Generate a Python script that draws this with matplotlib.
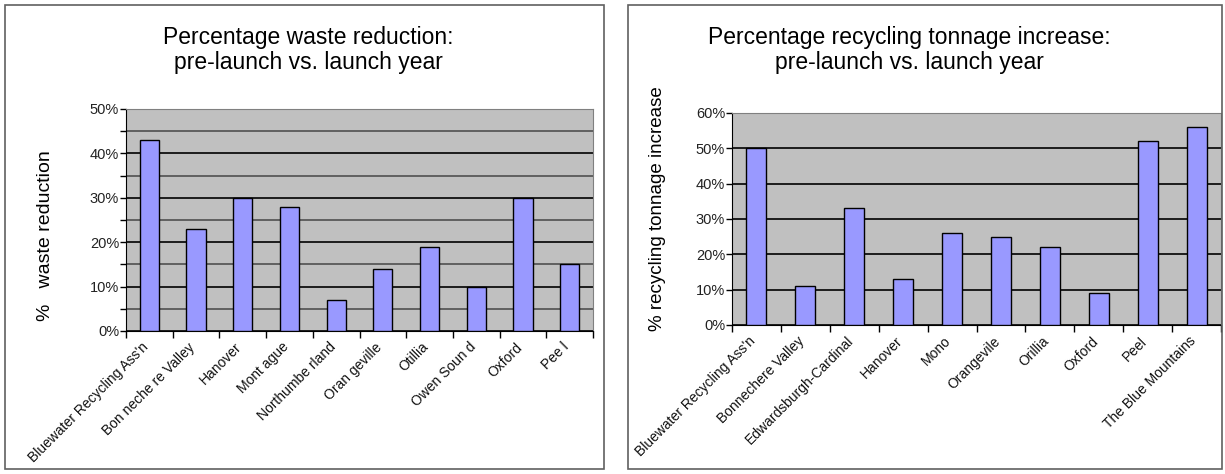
import matplotlib
matplotlib.use("Agg")
import matplotlib.pyplot as plt
from matplotlib.patches import Rectangle
from matplotlib.ticker import MultipleLocator, PercentFormatter
import numpy as np

plt.rcParams["font.family"] = ["Liberation Sans", "DejaVu Sans"]

# waste reduction per municipality (%)
waste_names = ["Bluewater Recycling Ass'n", "Bon neche re Valley", "Hanover",
               "Mont ague", "Northumbe rland", "Oran geville", "Otillia",
               "Owen Soun d", "Oxford", "Pee l"]
waste_pct = [43, 23, 30, 28, 7, 14, 19, 10, 30, 15]

# recycling tonnage increase per municipality (%)
recyc_names = ["Bluewater Recycling Ass'n", "Bonnechere Valley",
               "Edwardsburgh-Cardinal", "Hanover", "Mono", "Orangevile",
               "Orillia", "Oxford", "Peel", "The Blue Mountains"]
recyc_pct = [50, 11, 33, 13, 26, 25, 22, 9, 52, 56]

W, H = 1225, 474
fig = plt.figure(figsize=(W / 100, H / 100), dpi=100)


def px_box(x0, y0, x1, y1):
    # pixel box (top-left origin) -> figure fraction [l, b, w, h]
    return [x0 / W, 1 - y1 / H, (x1 - x0) / W, (y1 - y0) / H]


def panel(x0, y0, x1, y1):
    l, b, w, h = px_box(x0, y0, x1, y1)
    fig.patches.append(Rectangle((l, b), w, h, transform=fig.transFigure,
                                 fill=False, edgecolor="#606060", lw=1.2))


def bar_chart(box, names, vals, ymax, minor, title, title_x,
              ylabel, ylabel_x, ylabel_y, ylabel_size):
    ax = fig.add_axes(px_box(*box))
    ax.set_facecolor("#c0c0c0")
    x = np.arange(len(vals))
    ax.bar(x, vals, width=0.41, color="#9999ff", edgecolor="black", lw=1, zorder=3)
    ax.set_xlim(-0.5, len(vals) - 0.5)
    ax.set_ylim(0, ymax)
    ax.yaxis.set_major_locator(MultipleLocator(10))
    ax.yaxis.set_major_formatter(PercentFormatter(decimals=0))
    if minor:
        ax.yaxis.set_minor_locator(MultipleLocator(5))
        ax.grid(axis="y", which="minor", color="#505050", lw=1.2, zorder=1)
        ax.tick_params(axis="y", which="minor", length=4, width=1, direction="out")
    ax.grid(axis="y", which="major", color="black", lw=1.2, zorder=2)
    ax.tick_params(axis="y", which="major", length=4, width=1, direction="out",
                   labelsize=10.5, pad=1, labelcolor="#222222")
    # ticks at category boundaries, labels at centres
    ax.set_xticks(np.arange(len(vals) + 1) - 0.5)
    ax.set_xticklabels([])
    ax.tick_params(axis="x", length=5, width=1, direction="out")
    for i, n in enumerate(names):
        ax.annotate(n, (i, 0), xycoords=("data", "axes fraction"),
                    xytext=(-3, -14), textcoords="offset pixels",
                    rotation=45, ha="right", va="center", rotation_mode="anchor",
                    fontsize=10, color="#111111")
    for s in ("top", "right"):
        ax.spines[s].set_color("#808080")
    for s in ("left", "bottom"):
        ax.spines[s].set_color("black")
    ax.set_axisbelow(True)
    fig.text(title_x / W, 1 - 50 / H, title, ha="center", va="center",
             fontsize=16.5, linespacing=1.1)
    fig.text(ylabel_x / W, 1 - ylabel_y / H, ylabel,
             rotation=90, ha="center", va="center", fontsize=ylabel_size)
    return ax


panel(5, 5, 604, 469)
panel(628, 5, 1222, 469)

bar_chart((126, 109, 593, 331), waste_names, waste_pct, 50, True,
          "Percentage waste reduction:\npre-launch vs. launch year", 308,
          "%   waste reduction", 45, 236, 14)
bar_chart((732, 113, 1221, 325), recyc_names, recyc_pct, 60, False,
          "Percentage recycling tonnage increase:\npre-launch vs. launch year", 909,
          "% recycling tonnage increase", 658, 209, 13.5)

fig.savefig("out.png", dpi=100)
